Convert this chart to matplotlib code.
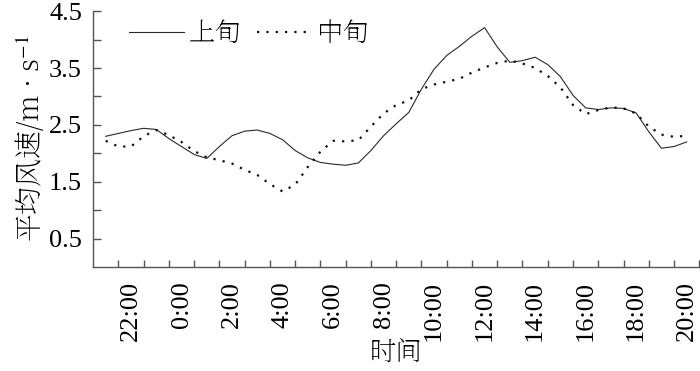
import numpy as np
import matplotlib
matplotlib.use("Agg")
import matplotlib.pyplot as plt
from matplotlib.ticker import FixedLocator

# hour of day, continuous from 21:00 (day before) to 20:00 (= 44)
hours = np.arange(21.0, 44.01, 0.5)

shang_xun = [2.30, 2.35, 2.40, 2.44, 2.42, 2.26, 2.12, 1.98, 1.91, 2.12,
             2.31, 2.39, 2.41, 2.35, 2.24, 2.05, 1.92, 1.84, 1.81, 1.79,
             1.83, 2.05, 2.31, 2.52, 2.72, 3.13, 3.48, 3.72, 3.88, 4.06,
             4.21, 3.87, 3.60, 3.63, 3.69, 3.56, 3.35, 3.02, 2.80, 2.77,
             2.80, 2.79, 2.71, 2.38, 2.09, 2.12, 2.20]

zhong_xun = [2.22, 2.12, 2.12, 2.30, 2.41, 2.32, 2.20, 2.04, 1.93, 1.88,
             1.82, 1.71, 1.62, 1.46, 1.33, 1.45, 1.76, 2.03, 2.22, 2.21,
             2.23, 2.47, 2.70, 2.85, 2.93, 3.13, 3.21, 3.26, 3.31, 3.42,
             3.51, 3.59, 3.63, 3.58, 3.50, 3.36, 3.16, 2.85, 2.69, 2.76,
             2.81, 2.79, 2.70, 2.47, 2.33, 2.29, 2.31]

tick_hours = [22, 24, 26, 28, 30, 32, 34, 36, 38, 40, 42, 44]
tick_labels = ["22:00", "0:00", "2:00", "4:00", "6:00", "8:00",
               "10:00", "12:00", "14:00", "16:00", "18:00", "20:00"]
y_ticks = [0.5, 1.5, 2.5, 3.5, 4.5]

plt.rcParams["font.family"] = ["Liberation Serif", "Noto Serif SC"]
plt.rcParams["mathtext.fontset"] = "stix"
latin = "Liberation Serif"
cjk = "Noto Serif SC"

fig = plt.figure(figsize=(7.0, 3.71), dpi=100)
ax = fig.add_axes([0.133, 0.280, 0.866, 0.690])

ax.plot(hours, shang_xun, color="#2a2a2a", lw=0.8, label="上旬")
ax.plot(hours, zhong_xun, color="#111111", lw=1.6, linestyle=(0, (1.0, 3.2)),
        label="中旬")

ax.set_xlim(20.5, 44.5)
ax.set_ylim(0.0, 4.5)

for s in ["top", "right"]:
    ax.spines[s].set_visible(False)
for s in ["left", "bottom"]:
    ax.spines[s].set_color("#555555")
    ax.spines[s].set_linewidth(1.0)

ax.set_yticks(y_ticks)
ax.set_yticklabels([f"{v:.1f}" for v in y_ticks], fontfamily=latin, fontsize=19)
ax.yaxis.set_minor_locator(FixedLocator([1.0, 2.0, 3.0, 4.0]))
ax.tick_params(axis="y", which="both", direction="in", length=6, width=1,
               color="#555555", pad=8)

ax.set_xticks(tick_hours)
ax.set_xticklabels(tick_labels, rotation=90, fontfamily=latin, fontsize=19)
ax.xaxis.set_minor_locator(FixedLocator(np.arange(21.5, 44.6, 1.0)))
ax.tick_params(axis="x", which="major", length=0, pad=10)
ax.tick_params(axis="x", which="minor", direction="in", length=5, width=1,
               color="#555555")

ax.set_ylabel("平均风速/m · s$^{-1}$", fontfamily=cjk, fontsize=20, labelpad=2)
ax.set_xlabel("时间", fontfamily=cjk, fontsize=19, labelpad=-2)

leg = ax.legend(loc="upper left", ncol=2, frameon=False,
                bbox_to_anchor=(0.02, 1.06), handlelength=2.1,
                handletextpad=0.15, columnspacing=0.6,
                prop={"family": cjk, "size": 19})

fig.savefig("out.png", dpi=100)
